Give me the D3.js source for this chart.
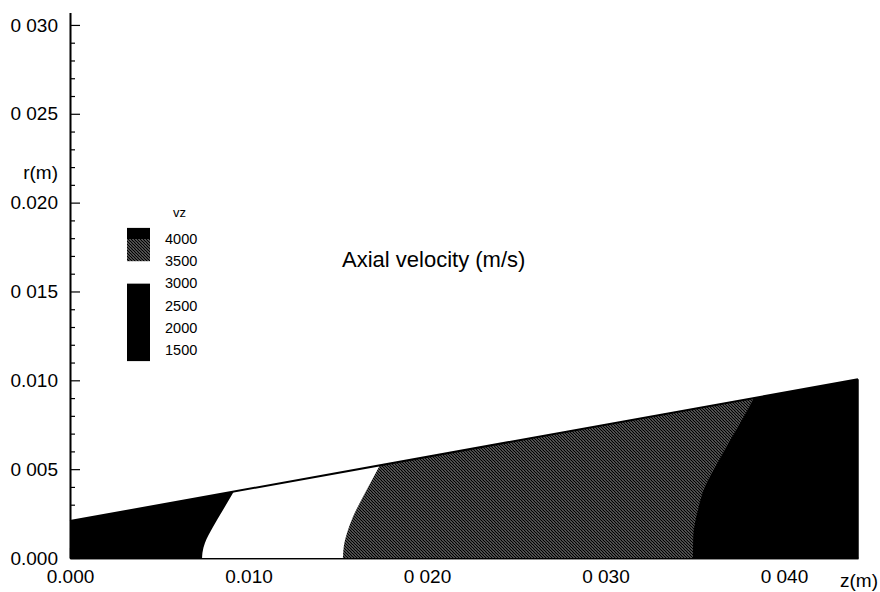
<!DOCTYPE html>
<html>
<head>
<meta charset="utf-8">
<script src="https://cdn.jsdelivr.net/npm/d3@7"></script>
<style>
  body { margin: 0; background: #fff; }
  text { font-family: "Liberation Sans", Arial, sans-serif; fill: #000; }
</style>
</head>
<body>
<div id="chart-area"></div>
<script>
// axial velocity contours in a conical nozzle, z (m) along axis, r (m) radius

var width = 880, height = 592;

var xTicks = [0, 0.01, 0.02, 0.03, 0.04];
var xTickLabels = ["0.000", "0.010", "0 020", "0 030", "0 040"];
var yTicks = [0, 0.005, 0.010, 0.015, 0.020, 0.025, 0.030];
var yTickLabels = ["0.000", "0 005", "0.010", "0 015", "0.020", "0 025", "0 030"];

// nozzle wall (straight cone)
var wallZ = [0, 0.04415];
var wallR = [0.00208, 0.01006];

// iso-velocity lines, [z, r]
var contour3000 = [[0.00740, 0], [0.00742, 0.00030], [0.00756, 0.00084], [0.00801, 0.00174],
                   [0.00857, 0.00270], [0.00913, 0.00366], [0.00969, 0.00462]];
var contour3500 = [[0.01529, 0], [0.01535, 0.00073], [0.01552, 0.00141], [0.01585, 0.00231],
                   [0.01641, 0.00343], [0.01692, 0.00439], [0.01737, 0.00523], [0.01790, 0.00620]];
var contour4000 = [[0.03490, 0], [0.03492, 0.00120], [0.03518, 0.00270], [0.03557, 0.00400],
                   [0.03625, 0.00529], [0.03703, 0.00670], [0.03765, 0.00777], [0.03826, 0.00889],
                   [0.03880, 0.00990]];

var legendLevels = [4000, 3500, 3000, 2500, 2000, 1500];
var legendBreaks = [1250, 3000, 3500, 4000, 4250];

function bandFill(v) {
	if (v >= 4000) return "#000";
	else if (v >= 3500) return "url(#hatch)";
	else if (v >= 3000) return "#fff";
	return "#000";
}

var x = d3.scaleLinear().domain([0, 0.04415]).range([70, 858]);
var y = d3.scaleLinear().domain([0, 0.0307]).range([558, 12.5]);

var svg = d3.select("#chart-area").append("svg")
	.attr("width", width)
	.attr("height", height);

var defs = svg.append("defs");
var pat = defs.append("pattern")
	.attr("id", "hatch")
	.attr("width", 3).attr("height", 3)
	.attr("patternUnits", "userSpaceOnUse");
pat.append("rect").attr("width", 3).attr("height", 3).attr("fill", "#fff");
pat.append("path")
	.attr("d", "M-1,-1L4,4M-1,2L1,4M2,-1L4,1")
	.attr("stroke", "#000")
	.attr("stroke-width", 1.6);

// cone outline used as clip
var cone = [[0, 0], [wallZ[0], wallR[0]], [wallZ[1], wallR[1]], [wallZ[1], 0]];
defs.append("clipPath").attr("id", "cone")
	.append("path")
	.attr("d", "M" + cone.map(function(p) { return x(p[0]) + "," + y(p[1]); }).join("L") + "Z");

// axes first so the fills cover the inner ticks
var yAxis = d3.axisLeft(y)
	.tickValues(yTicks)
	.tickFormat(function(d, i) { return yTickLabels[i]; })
	.tickSizeInner(-10).tickSizeOuter(0)
	.tickPadding(12);
var yMinor = d3.axisLeft(y)
	.tickValues(d3.range(1, 31).filter(function(k) { return k % 5; }).map(function(k) { return k / 1000; }))
	.tickFormat("")
	.tickSizeInner(-5).tickSizeOuter(0);
var xAxis = d3.axisBottom(x)
	.tickValues(xTicks)
	.tickFormat(function(d, i) { return xTickLabels[i]; })
	.tickSizeInner(-10).tickSizeOuter(0)
	.tickPadding(12);
var xMinor = d3.axisBottom(x)
	.tickValues(d3.range(1, 23).filter(function(k) { return k % 5; }).map(function(k) { return k / 500; }))
	.tickFormat("")
	.tickSizeInner(-5).tickSizeOuter(0);

var gy = svg.append("g").attr("transform", "translate(70,0)").call(yAxis);
svg.append("g").attr("transform", "translate(70,0)").call(yMinor);
var gx = svg.append("g").attr("transform", "translate(0,558)").call(xAxis);
svg.append("g").attr("transform", "translate(0,558)").call(xMinor);

svg.selectAll(".domain").attr("stroke", "#000").attr("stroke-width", 1.6);
svg.selectAll(".tick line").attr("stroke", "#000").attr("stroke-width", 1.2);
gy.selectAll("text").style("font-size", "19px").attr("fill", "#000").attr("font-family", null);
gx.selectAll("text").style("font-size", "19px").attr("fill", "#000").attr("font-family", null);

// velocity bands, painted from low to high
var line = d3.line()
	.x(function(d) { return x(d[0]); })
	.y(function(d) { return y(d[1]); })
	.curve(d3.curveMonotoneY);

var field = svg.append("g").attr("clip-path", "url(#cone)");
field.append("path")
	.attr("d", "M" + cone.map(function(p) { return x(p[0]) + "," + y(p[1]); }).join("L") + "Z")
	.attr("fill", bandFill(2000));

var contours = [
	{ level: 3000, pts: contour3000 },
	{ level: 3500, pts: contour3500 },
	{ level: 4000, pts: contour4000 }
];
field.selectAll("path.band").data(contours).enter().append("path")
	.attr("class", "band")
	.attr("fill", function(d) { return bandFill(d.level); })
	.attr("d", function(d) {
		return line(d.pts) +
			"L" + (x.range()[1] + 5) + "," + y(0.012) +
			"L" + (x.range()[1] + 5) + "," + y(0) + "Z";
	});

// nozzle wall
svg.append("line")
	.attr("x1", x(wallZ[0])).attr("y1", y(wallR[0]))
	.attr("x2", x(wallZ[1])).attr("y2", y(wallR[1]))
	.attr("stroke", "#000")
	.attr("stroke-width", 2);
svg.append("line")
	.attr("x1", x(wallZ[1])).attr("y1", y(wallR[1]))
	.attr("x2", x(wallZ[1])).attr("y2", y(0))
	.attr("stroke", "#000")
	.attr("stroke-width", 1.5);

// axis titles
svg.append("text").attr("x", 58).attr("y", 179)
	.attr("text-anchor", "end").style("font-size", "19px").text("r(m)");
svg.append("text").attr("x", 878).attr("y", 587)
	.attr("text-anchor", "end").style("font-size", "19px").text("z(m)");

svg.append("text").attr("x", 342).attr("y", 267)
	.style("font-size", "22px").text("Axial velocity (m/s)");

// legend
var ly = d3.scaleLinear().domain([1500, 4000]).range([350, 239]);
var legend = svg.append("g");
legend.selectAll("rect").data(d3.pairs(legendBreaks)).enter().append("rect")
	.attr("x", 127).attr("width", 23)
	.attr("y", function(d) { return ly(d[1]); })
	.attr("height", function(d) { return ly(d[0]) - ly(d[1]); })
	.attr("fill", function(d) { return bandFill(d[0]); });
legend.selectAll("text.lv").data(legendLevels).enter().append("text")
	.attr("class", "lv")
	.attr("x", 165)
	.attr("y", function(d) { return ly(d); })
	.attr("dy", "0.35em")
	.style("font-size", "14.5px")
	.text(function(d) { return d; });
legend.append("text").attr("x", 173).attr("y", 217)
	.style("font-size", "13px").text("vz");
</script>
</body>
</html>
